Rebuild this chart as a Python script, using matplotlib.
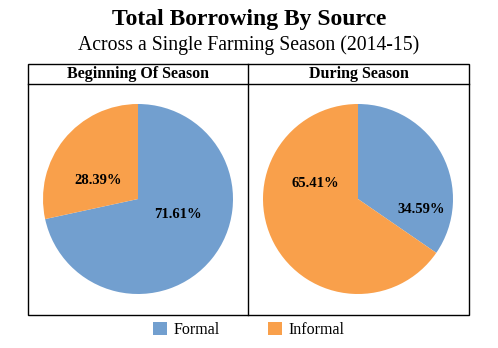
import matplotlib.pyplot as plt
from matplotlib.patches import Rectangle
from matplotlib.lines import Line2D

plt.rcParams['font.family'] = ['Liberation Serif', 'DejaVu Serif']

sources = ['Formal', 'Informal']
panels = ['Beginning Of Season', 'During Season']
beginning = [71.61, 28.39]
during = [34.59, 65.41]
colors = ['#729fcf', '#f9a04b']

# where Excel put the % labels (pie units, centre = 0,0)
label_pos = [[(0.42, -0.16), (-0.42, 0.19)],
             [(0.67, -0.11), (-0.45, 0.16)]]

W, H = 498, 348
fig = plt.figure(figsize=(W / 100, H / 100), dpi=100)

def fx(x):
    return x / W

def fy(y):
    return 1 - y / H

fig.text(0.5, fy(19), 'Total Borrowing By Source', ha='center', va='center',
         fontsize=17, fontweight='bold')
fig.text(0.5, fy(45), 'Across a Single Farming Season (2014-15)', ha='center',
         va='center', fontsize=14.2)

# panel frame
box_l, box_r, box_t, box_b, head_b, mid = 28, 469, 64, 315, 84, 248
fig.add_artist(Rectangle((fx(box_l), fy(box_b)), fx(box_r - box_l), (box_b - box_t) / H,
                         transform=fig.transFigure, fill=False, lw=1, ec='black'))
fig.add_artist(Line2D([fx(box_l), fx(box_r)], [fy(head_b), fy(head_b)],
                      transform=fig.transFigure, lw=1, color='black'))
fig.add_artist(Line2D([fx(mid), fx(mid)], [fy(box_t), fy(box_b)],
                      transform=fig.transFigure, lw=1, color='black'))

fig.text(fx((box_l + mid) / 2), fy(74.5), panels[0], ha='center', va='center',
         fontsize=11.5, fontweight='bold')
fig.text(fx((mid + box_r) / 2), fy(74.5), panels[1], ha='center', va='center',
         fontsize=11.5, fontweight='bold')

wedges = None
for i, (vals, cx) in enumerate([(beginning, 138), (during, 358)]):
    r = 95
    ax = fig.add_axes([fx(cx - r), fy(199 + r), fx(2 * r), 2 * r / H])
    w, _ = ax.pie(vals, colors=colors, startangle=90, counterclock=False,
                  radius=1, wedgeprops={'linewidth': 0})
    ax.set_xlim(-1, 1)
    ax.set_ylim(-1, 1)
    for v, (tx, ty) in zip(vals, label_pos[i]):
        ax.text(tx, ty, f'{v:.2f}%', ha='center', va='center',
                fontsize=10.5, fontweight='bold')
    if wedges is None:
        wedges = w

fig.legend(wedges, sources, loc='center', bbox_to_anchor=(0.5, fy(330)), ncol=2,
           frameon=False, fontsize=11.5, handlelength=0.85, handleheight=0.85,
           handletextpad=0.45, columnspacing=3.0)

fig.savefig('out.png', dpi=100)
